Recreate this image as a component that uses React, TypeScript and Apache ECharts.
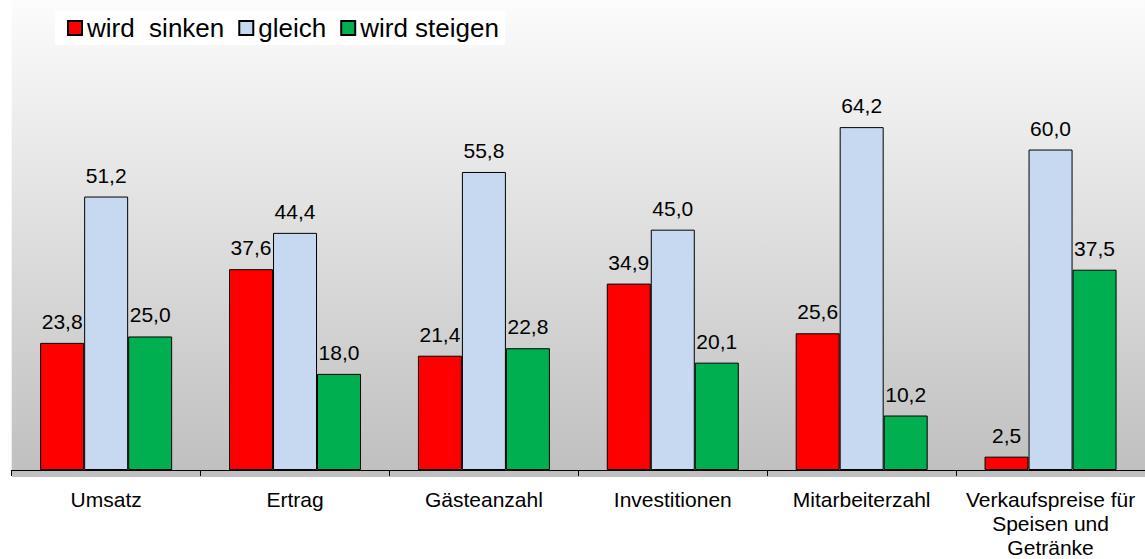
import React, { useEffect, useRef } from "react";
import * as echarts from "echarts";

const categories = [
  "Umsatz",
  "Ertrag",
  "Gästeanzahl",
  "Investitionen",
  "Mitarbeiterzahl",
  "Verkaufspreise für\nSpeisen und\nGetränke",
];
const seriesNames = ["wird  sinken", "gleich", "wird steigen"];
const sinken = [23.8, 37.6, 21.4, 34.9, 25.6, 2.5];
const gleich = [51.2, 44.4, 55.8, 45.0, 64.2, 60.0];
const steigen = [25.0, 18.0, 22.8, 20.1, 10.2, 37.5];
const colors = ["#ff0000", "#c6d9f1", "#00b050"];

const FONT = "'Liberation Sans', Arial, sans-serif";

export default function App() {
  const ref = useRef<HTMLDivElement>(null);
  useEffect(() => {
    if (!ref.current) return;
    const chart = echarts.init(ref.current, undefined, { renderer: "svg" });
    const gridLeft = 11.7;
    const gridW = 1137;
    const gridTop = 0;
    const gridH = 477;
    const mk = (name: string, data: number[], color: string) => ({
      name,
      type: "bar",
      data,
      barWidth: 44,
      barGap: "0%",
      itemStyle: { color, borderColor: "#000", borderWidth: 1 },
      label: {
        show: true,
        position: "top",
        distance: 11,
        color: "#000",
        fontSize: 21,
        fontFamily: FONT,
        formatter: (p: any) => Number(p.value).toFixed(1).replace(".", ","),
      },
    });
    chart.setOption({
      animation: false,
      backgroundColor: "#fff",
      textStyle: { fontFamily: FONT },
      graphic: [
        {
          type: "rect",
          silent: true,
          z: -10,
          shape: { x: gridLeft, y: gridTop, width: gridW, height: gridH },
          style: {
            fill: new echarts.graphic.LinearGradient(0, 0, 0, 1, [
              { offset: 0, color: "#fcfcfc" },
              { offset: 1, color: "#bfbfbf" },
            ]),
          },
        },
      ],
      legend: {
        left: 55,
        top: 11,
        backgroundColor: "#fff",
        padding: [4, 6, 4, 12],
        itemWidth: 14,
        itemHeight: 14,
        itemGap: 14,
        icon: "rect",
        textStyle: {
          fontSize: 26,
          color: "#000",
          fontFamily: FONT,
        },
        data: seriesNames,
      },
      grid: { left: gridLeft, top: gridTop, width: gridW, height: gridH },
      xAxis: {
        type: "category",
        data: categories,
        axisLine: { lineStyle: { color: "#000", width: 1 } },
        axisTick: { show: true, length: 6, lineStyle: { color: "#000" } },
        axisLabel: {
          interval: 0,
          fontSize: 21,
          lineHeight: 24,
          color: "#000",
          margin: 17,
          fontFamily: FONT,
        },
      },
      yAxis: {
        type: "value",
        min: 0,
        max: 88,
        show: false,
        splitLine: { show: false },
      },
      series: [
        mk(seriesNames[0], sinken, colors[0]),
        mk(seriesNames[1], gleich, colors[1]),
        mk(seriesNames[2], steigen, colors[2]),
      ],
    });
    return () => chart.dispose();
  }, []);
  return (
    <div
      ref={ref}
      style={{ position: "absolute", left: 0, top: 0, width: 1145, height: 559 }}
    />
  );
}
